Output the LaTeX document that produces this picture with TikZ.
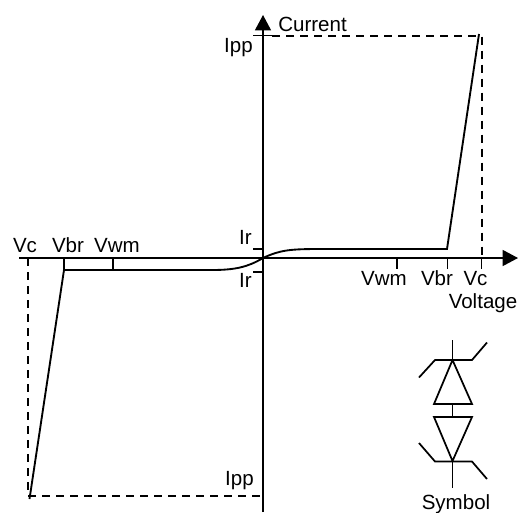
\documentclass[tikz,border=0pt]{standalone}
\usepackage{fontspec}
\setmainfont{Liberation Sans}
\usetikzlibrary{calc,arrows.meta}
\tikzset{
  lbl/.style={inner sep=0pt, anchor=base, font=\fontsize{15.4}{17}\selectfont},
  lblr/.style={lbl, anchor=base east},
  curve/.style={line width=1.4pt},
  axisline/.style={line width=1pt},
  guide/.style={line width=1.5pt, dash pattern=on 6pt off 4.5pt},
  symline/.style={line width=1.3pt, line join=miter}
}
\begin{document}
\begin{tikzpicture}[x=.75pt,y=-.75pt]
\useasboundingbox (0,0) rectangle (524,512);
\coordinate (O) at (263,258);
% axes
\draw[axisline,-{Triangle[length=11.5pt,width=12pt]}] (19,258) -- (518,258);
\draw[axisline,-{Triangle[length=11.5pt,width=12pt]}] (263,512) -- (263,15);
% ticks
\draw[axisline] (253,35.7) -- (272,35.7);
\draw[axisline] (253,249) -- (263,249);
\draw[axisline] (253,272) -- (263,272);
\foreach \tk in {64,113,397,447.5,481.5} \draw[axisline] (\tk,258) -- (\tk,269);
% dashes
\draw[guide] (272,36.2) -- (481.7,36.2) -- (481.7,258);
\draw[guide] (27.5,258) -- (27.5,495.5) -- (263,495.5);
% curve
\draw[curve] (479,34) -- (447,249) -- (320,249)
  .. controls (290,249) and (280,250) .. (263,258)
  .. controls (248,267) and (235,270) .. (212,270) -- (64,270) -- (29.5,499);
% labels
\node[lbl,anchor=base west] (current) at (278,31) {Current};
\node[lblr] (ippup) at (253,52) {Ipp};
\node[lblr] (irup) at (252,244) {Ir};
\node[lblr] (irdown) at (252,287) {Ir};
\node[lbl] (vcl) at (25,252) {Vc};
\node[lbl] (vbrl) at (68,252) {Vbr};
\node[lbl] (vwml) at (117,252) {Vwm};
\node[lbl] (vwmr) at (384,285) {Vwm};
\node[lbl] (vbrr) at (437,285) {Vbr};
\node[lbl] (vcr) at (475.5,285) {Vc};
\node[lbl] (voltage) at (483,308) {Voltage};
\node[lblr] (ippdown) at (254,485) {Ipp};
\node[lbl] (symbol) at (456,509) {Symbol};
% symbol
\draw[symline] (452.5,340) -- (452.5,360);
\draw[symline] (419,377.5) -- (435,360) -- (472,360) -- (487,342.5);
\draw[symline] (452.5,360) -- (434,404) -- (472,404) -- cycle;
\draw[symline] (452.5,404) -- (452.5,417);
\draw[symline] (434,417) -- (472,417) -- (452.5,461) -- cycle;
\draw[symline] (419,443) -- (435,461.5) -- (472,461.5) -- (487,479);
\draw[symline] (452.5,461.5) -- (452.5,488);
\end{tikzpicture}
\end{document}
